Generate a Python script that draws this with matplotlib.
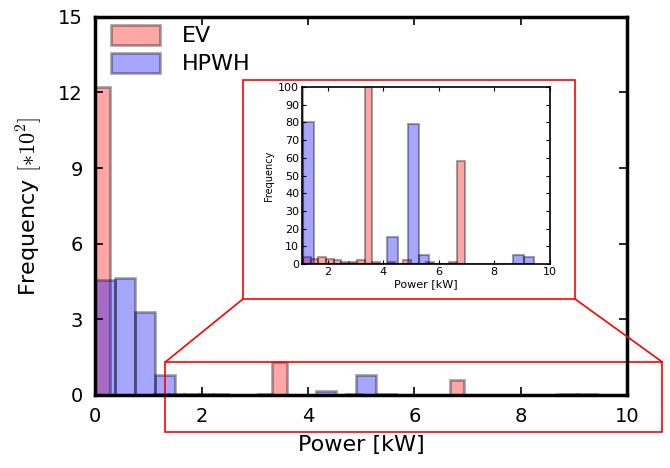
import numpy as np
import matplotlib
matplotlib.use("Agg")
import matplotlib.pyplot as plt
from matplotlib.patches import Rectangle, ConnectionPatch

plt.rcParams['mathtext.fontset'] = 'cm'

# histogram bins (25 bins each)
ev_edges = np.linspace(0, 6.94, 26)
ev_counts = [1220, 0, 0, 1, 4, 3, 4, 3, 2, 1, 1, 2, 130, 1, 0, 1, 0, 2, 0, 0, 1, 0, 0, 1, 58]
hp_edges = np.linspace(0, 9.43, 26)
hp_counts = [455, 465, 330, 80, 0, 0, 0, 0, 0, 0, 0, 15, 0, 79, 5, 0, 0, 0, 0, 0, 0, 0, 0, 5, 4]
labels = ['EV', 'HPWH']

fig = plt.figure(figsize=(6.7, 4.68), dpi=100)
ax = fig.add_axes([0.142, 0.156, 0.794, 0.808])

def draw(a, scale, lw):
    a.hist(ev_edges[:-1], bins=ev_edges, weights=np.array(ev_counts) / scale,
           color='r', alpha=0.35, edgecolor='k', linewidth=lw, label=labels[0])
    a.hist(hp_edges[:-1], bins=hp_edges, weights=np.array(hp_counts) / scale,
           color='b', alpha=0.35, edgecolor='k', linewidth=lw, label=labels[1])

draw(ax, 100.0, 2)
ax.set_xlim(0, 10)
ax.set_ylim(0, 15)
ax.set_xticks(range(0, 11, 2))
ax.set_yticks(range(0, 16, 3))
ax.tick_params(direction='in', top=True, right=True, labelsize=14, length=6, width=1.2, pad=9)
for s in ax.spines.values():
    s.set_linewidth(2.5)
ax.set_xlabel('Power [kW]', fontsize=16, labelpad=6)
ax.set_ylabel(r'Frequency $[*10^2]$', fontsize=16, labelpad=10)
leg = ax.legend(loc='upper left', bbox_to_anchor=(0.015, 1.0), frameon=False, fontsize=16,
                handlelength=2.2, handleheight=1.0, handletextpad=1.0, borderaxespad=0.0,
                borderpad=0.35, labelspacing=0.3)

# zoomed inset
axin = fig.add_axes([0.4507, 0.436, 0.370, 0.378])
draw(axin, 1.0, 1.5)
axin.set_xlim(1.08, 10)
axin.set_ylim(0, 100)
axin.set_xticks(range(2, 11, 2))
axin.set_yticks(range(0, 101, 10))
axin.tick_params(direction='in', top=True, right=True, labelsize=8, length=3, pad=2)
for s in axin.spines.values():
    s.set_linewidth(1.2)
axin.set_xlabel('Power [kW]', fontsize=8, labelpad=2)
axin.set_ylabel('Frequency', fontsize=7, labelpad=3)

# red boxes and connectors
small = Rectangle((1.32, -1.47), 9.34, 2.78, fill=False, edgecolor='r', lw=1.2, clip_on=False)
ax.add_patch(small)
big = Rectangle((243 / 670, 1 - 299 / 468), 332 / 670, 219 / 468, fill=False,
                edgecolor='r', lw=1.2, transform=fig.transFigure)
fig.add_artist(big)
for xa, xf in [(1.32, 243 / 670), (10.66, 575 / 670)]:
    con = ConnectionPatch(xyA=(xa, 1.31), coordsA=ax.transData,
                          xyB=(xf, 1 - 299 / 468), coordsB=fig.transFigure,
                          color='r', lw=1.2)
    fig.add_artist(con)

fig.savefig('out.png', dpi=100, facecolor='white')
